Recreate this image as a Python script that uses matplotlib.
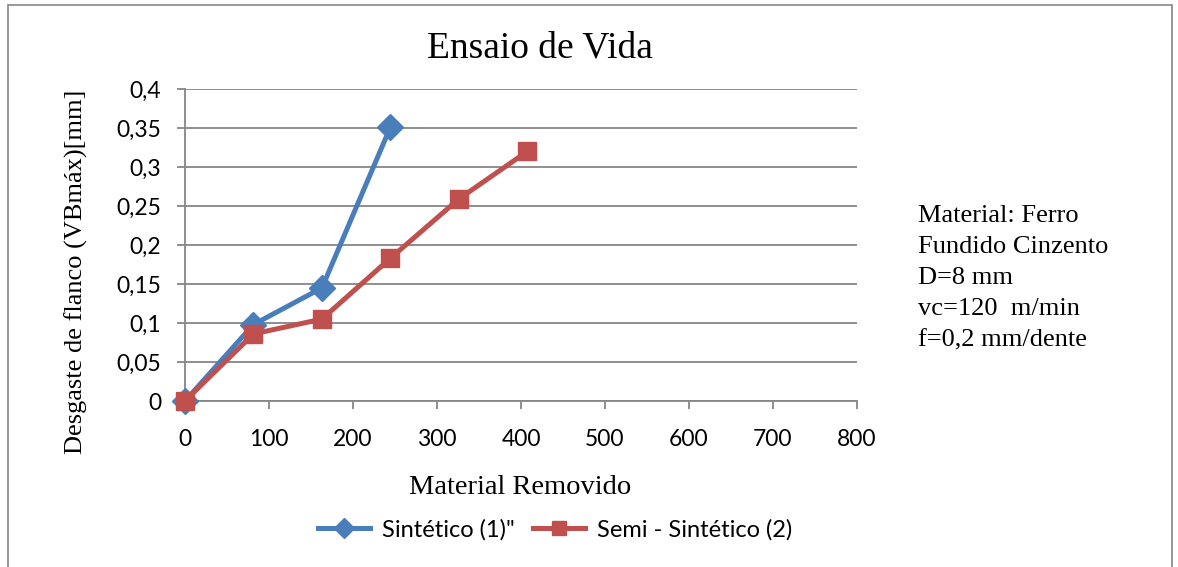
import matplotlib
matplotlib.use("Agg")
import matplotlib.pyplot as plt
from matplotlib.patches import Rectangle
from matplotlib.ticker import FuncFormatter, MultipleLocator

x_sint = [0, 81.5, 163, 244.5]
y_sint = [0, 0.098, 0.145, 0.351]
x_semi = [0, 81.5, 163, 244.5, 326, 407.5]
y_semi = [0, 0.086, 0.105, 0.183, 0.259, 0.320]
labels = ["Sintético (1)\"", "Semi - Sintético (2)"]
title = "Ensaio de Vida"
xlabel = "Material Removido"
ylabel = "Desgaste de flanco (VBmáx)[mm]"
note = "Material: Ferro\nFundido Cinzento\nD=8 mm\nvc=120  m/min\nf=0,2 mm/dente"

blue = "#4a7ebb"
red = "#c0504d"
gray = "#868686"
sans = ["Lato", "DejaVu Sans"]
serif = ["Liberation Serif", "DejaVu Serif"]

fig = plt.figure(figsize=(11.78, 5.67), dpi=100)
ax = fig.add_axes([185/1178, 1-401/567, (857-185)/1178, (401-89)/567])

ax.plot(x_sint, y_sint, color=blue, lw=3.6, marker="D", ms=13, label=labels[0], zorder=3, clip_on=False)
ax.plot(x_semi, y_semi, color=red, lw=3.6, marker="s", ms=13.5, label=labels[1], zorder=4, clip_on=False)

ax.set_xlim(0, 800)
ax.set_ylim(0, 0.4)
ax.xaxis.set_major_locator(MultipleLocator(100))
ax.yaxis.set_major_locator(MultipleLocator(0.05))
ax.yaxis.set_major_formatter(FuncFormatter(lambda v, p: ("%g" % round(v, 2)).replace(".", ",")))
ax.grid(axis="y", color=gray, lw=1.3)
ax.set_axisbelow(True)
for s in ["top", "right"]:
    ax.spines[s].set_visible(False)
for s in ["left", "bottom"]:
    ax.spines[s].set_color(gray)
    ax.spines[s].set_linewidth(1.3)
ax.tick_params(axis="both", color=gray, length=6, width=1.3, labelsize=16.5)
ax.tick_params(axis="y", pad=11)
ax.tick_params(axis="x", pad=14)
for lab in ax.get_xticklabels() + ax.get_yticklabels():
    lab.set_family(sans)

fig.text(540/1178, 1-48/567, title, ha="center", va="center", fontsize=27, family=serif)
fig.text(520/1178, 1-488/567, xlabel, ha="center", va="center", fontsize=20.5, family=serif)
fig.text(76/1178, 1-272/567, ylabel, ha="center", va="center", rotation=90, fontsize=19, family=serif)
fig.text(918/1178, 1-205/567, note, ha="left", va="top", fontsize=19, family=serif, linespacing=1.53)

leg = fig.legend(loc="center", bbox_to_anchor=(555/1178, 1-530/567), ncol=2, frameon=False,
                 prop={"family": sans, "size": 17}, handlelength=2.2, columnspacing=0.8,
                 handletextpad=0.5, markerscale=0.75)

fig.patches.append(Rectangle((8/1178, -0.02), (1172-8)/1178, 1-5/567+0.02, transform=fig.transFigure,
                             fill=False, edgecolor=gray, lw=1.2))

fig.savefig("out.png", dpi=100)
